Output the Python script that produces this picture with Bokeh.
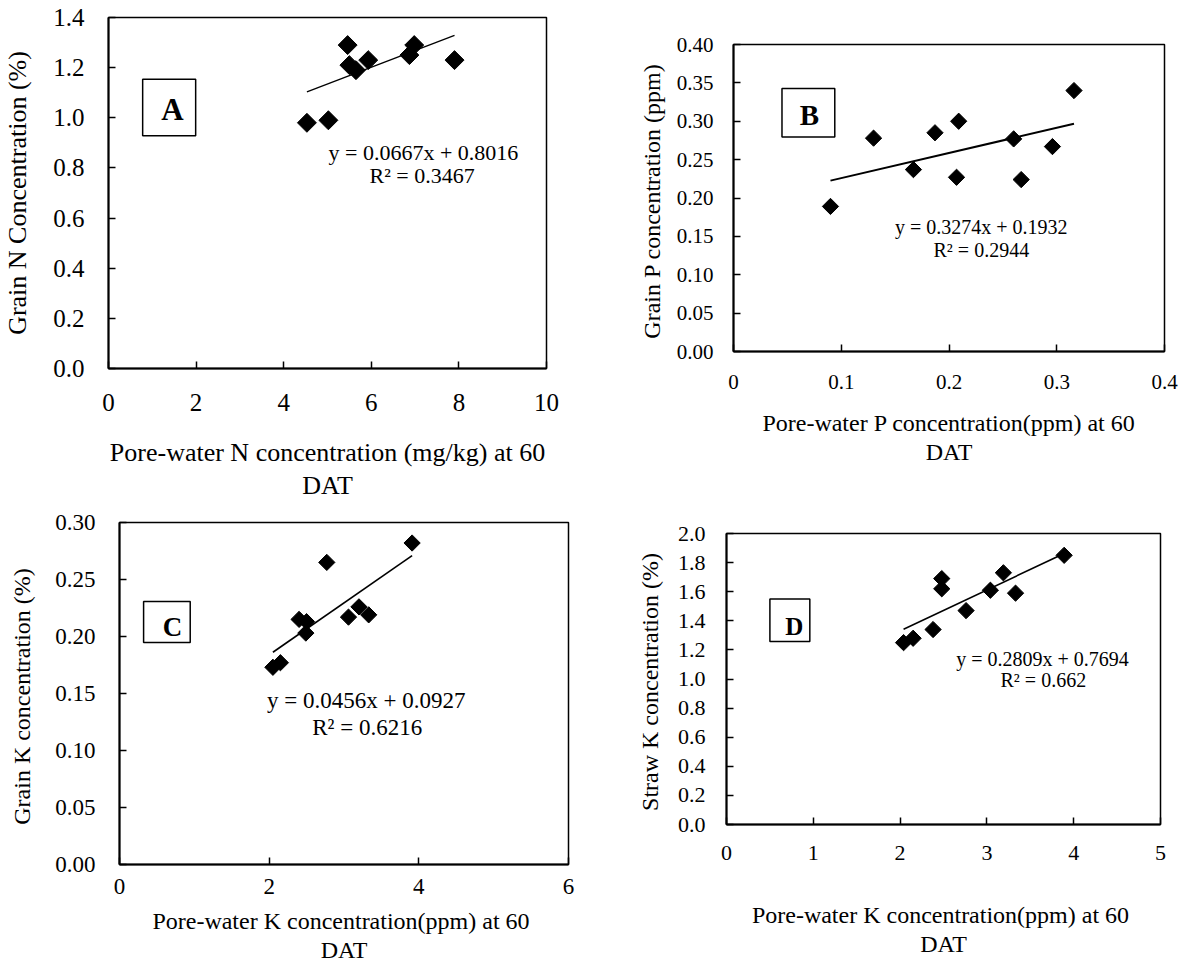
import numpy as np
from bokeh.plotting import figure
from bokeh.models import Range1d, FixedTicker, Label, BoxAnnotation, CustomJSTickFormatter
from bokeh.layouts import column, row
from bokeh.embed import file_html
from bokeh.resources import INLINE

FONT = "Liberation Serif"

# ---------------- data ----------------
# Panel A: grain N vs pore-water N
a_x = [4.53, 5.02, 5.46, 5.50, 5.65, 5.93, 6.87, 6.98, 7.90]
a_y = [0.98, 0.99, 1.29, 1.21, 1.19, 1.23, 1.25, 1.29, 1.23]
a_fit = (0.0667, 0.8016)
a_eq = "y = 0.0667x + 0.8016"
a_r2 = "R² = 0.3467"
a_xticks = [0, 2, 4, 6, 8, 10]
a_xlabels = ["0", "2", "4", "6", "8", "10"]
a_yticks = [0.0, 0.2, 0.4, 0.6, 0.8, 1.0, 1.2, 1.4]
a_ylabels = ["0.0", "0.2", "0.4", "0.6", "0.8", "1.0", "1.2", "1.4"]
a_xtitle = "Pore-water N concentration (mg/kg) at 60\nDAT"
a_ytitle = "Grain N Concentration (%)"

# Panel B: grain P vs pore-water P
b_x = [0.090, 0.130, 0.167, 0.187, 0.209, 0.207, 0.260, 0.267, 0.296, 0.316]
b_y = [0.189, 0.278, 0.237, 0.285, 0.300, 0.227, 0.277, 0.224, 0.267, 0.340]
b_fit = (0.3274, 0.1932)
b_eq = "y = 0.3274x + 0.1932"
b_r2 = "R² = 0.2944"
b_xticks = [0, 0.1, 0.2, 0.3, 0.4]
b_xlabels = ["0", "0.1", "0.2", "0.3", "0.4"]
b_yticks = [0.0, 0.05, 0.10, 0.15, 0.20, 0.25, 0.30, 0.35, 0.40]
b_ylabels = ["0.00", "0.05", "0.10", "0.15", "0.20", "0.25", "0.30", "0.35", "0.40"]
b_xtitle = "Pore-water P concentration(ppm) at 60\nDAT"
b_ytitle = "Grain P concentration  (ppm)"

# Panel C: grain K vs pore-water K
c_x = [2.05, 2.15, 2.40, 2.50, 2.49, 2.77, 3.06, 3.20, 3.33, 3.91]
c_y = [0.173, 0.177, 0.215, 0.213, 0.203, 0.265, 0.217, 0.226, 0.219, 0.282]
c_fit = (0.0456, 0.0927)
c_eq = "y = 0.0456x + 0.0927"
c_r2 = "R² = 0.6216"
c_xticks = [0, 2, 4, 6]
c_xlabels = ["0", "2", "4", "6"]
c_yticks = [0.0, 0.05, 0.10, 0.15, 0.20, 0.25, 0.30]
c_ylabels = ["0.00", "0.05", "0.10", "0.15", "0.20", "0.25", "0.30"]
c_xtitle = "Pore-water K concentration(ppm)  at 60\nDAT"
c_ytitle = "Grain K concentration  (%)"

# Panel D: straw K vs pore-water K
d_x = [2.04, 2.15, 2.38, 2.48, 2.48, 2.76, 3.04, 3.19, 3.33, 3.89]
d_y = [1.25, 1.28, 1.34, 1.69, 1.62, 1.47, 1.61, 1.73, 1.59, 1.85]
d_fit = (0.2809, 0.7694)
d_eq = "y = 0.2809x + 0.7694"
d_r2 = "R² = 0.662"
d_xticks = [0, 1, 2, 3, 4, 5]
d_xlabels = ["0", "1", "2", "3", "4", "5"]
d_yticks = [0.0, 0.2, 0.4, 0.6, 0.8, 1.0, 1.2, 1.4, 1.6, 1.8, 2.0]
d_ylabels = ["0.0", "0.2", "0.4", "0.6", "0.8", "1.0", "1.2", "1.4", "1.6", "1.8", "2.0"]
d_xtitle = "Pore-water K concentration(ppm)  at 60\nDAT"
d_ytitle = "Straw K concentration  (%)"


def panel(cfg):
    p = figure(width=cfg["w"], height=cfg["h"], output_backend="svg", toolbar_location=None,
               x_range=Range1d(*cfg["xr"]), y_range=Range1d(*cfg["yr"]),
               min_border_left=cfg["b"][0], min_border_right=cfg["b"][1],
               min_border_top=cfg["b"][2], min_border_bottom=cfg["b"][3],
               background_fill_color="white", border_fill_color="white")
    p.grid.visible = False
    p.outline_line_color = "black"
    p.outline_line_width = 1.5
    axes = ((p.xaxis[0], cfg["xt"], cfg["xl"], cfg["sx"], cfg["xtitle"], cfg["lsx"]),
            (p.yaxis[0], cfg["yt"], cfg["yl"], cfg["sy"], cfg["ytitle"], cfg["lsy"]))
    for ax, ticks, labels, stand, title, lstand in axes:
        ax.ticker = FixedTicker(ticks=ticks, minor_ticks=[])
        ax.formatter = CustomJSTickFormatter(args=dict(labels=labels), code="return labels[index]")
        ax.major_tick_in = 7
        ax.major_tick_out = 0
        ax.minor_tick_line_color = None
        ax.major_tick_line_width = 1.5
        ax.axis_line_width = 2
        ax.major_label_text_font = FONT
        ax.major_label_text_font_size = cfg["tick_fs"]
        ax.major_label_text_color = "black"
        ax.major_label_standoff = stand
        ax.axis_label = title
        ax.axis_label_text_font = FONT
        ax.axis_label_text_font_size = cfg["title_fs"]
        ax.axis_label_text_font_style = "normal"
        ax.axis_label_text_color = "black"
        ax.axis_label_text_line_height = 1.15
        ax.axis_label_standoff = lstand

    xs, ys = cfg["x"], cfg["y"]
    lx = np.array([min(xs), max(xs)])
    p.line(lx, cfg["fit"][0] * lx + cfg["fit"][1], line_color="black", line_width=cfg["lw"])
    p.scatter(xs, ys, marker="square", size=cfg["ms"], angle=np.pi / 4,
              fill_color="black", line_color="black")

    def lab(x, y, text, fs, bold=False):
        p.add_layout(Label(x=x, y=y, text=text, text_font=FONT, text_font_size=fs,
                           text_align="center", text_baseline="middle",
                           text_color="black", text_font_style="bold" if bold else "normal"))

    bl, br, bb, bt = cfg["box"]
    p.add_layout(BoxAnnotation(left=bl, right=br, bottom=bb, top=bt, fill_alpha=0,
                               fill_color=None, line_color="black", line_alpha=1.0,
                               line_width=1.5))
    lab(cfg["letter_pos"][0], cfg["letter_pos"][1], cfg["letter"], cfg["letter_fs"], bold=True)
    lab(cfg["eq_pos"][0], cfg["eq_pos"][1], cfg["eq"], cfg["eq_fs"])
    lab(cfg["r2_pos"][0], cfg["r2_pos"][1], cfg["r2"], cfg["eq_fs"])
    return p


ROW1_H = 509
ROW2_H = 462

pA = panel(dict(w=580, h=ROW1_H, b=(108, 34, 17, 141), xr=(0, 10), yr=(0, 1.4),
                xt=a_xticks, xl=a_xlabels, yt=a_yticks, yl=a_ylabels, sx=25, sy=24,
                lsx=24, lsy=18,
                tick_fs="25px", title_fs="26px", eq_fs="22px", letter_fs="31px",
                x=a_x, y=a_y, fit=a_fit, lw=1.3, ms=13.4,
                box=(0.78, 1.99, 0.928, 1.154), letter="A", letter_pos=(1.46, 1.033),
                eq=a_eq, r2=a_r2, eq_pos=(7.19, 0.863), r2_pos=(7.16, 0.770),
                xtitle=a_xtitle, ytitle=a_ytitle))

pB = panel(dict(w=600, h=ROW1_H, b=(153, 16, 44, 158), xr=(0, 0.4), yr=(0, 0.4),
                xt=b_xticks, xl=b_xlabels, yt=b_yticks, yl=b_ylabels, sx=23, sy=20,
                lsx=18, lsy=9,
                tick_fs="21px", title_fs="24px", eq_fs="20px", letter_fs="29px",
                x=b_x, y=b_y, fit=b_fit, lw=2, ms=11.5,
                box=(0.045, 0.094, 0.2795, 0.3426), letter="B", letter_pos=(0.0705, 0.3078),
                eq=b_eq, r2=b_r2, eq_pos=(0.230, 0.162), r2_pos=(0.230, 0.1317),
                xtitle=b_xtitle, ytitle=b_ytitle))

pC = panel(dict(w=580, h=ROW2_H, b=(119, 12, 13, 107), xr=(0, 6), yr=(0, 0.3),
                xt=c_xticks, xl=c_xlabels, yt=c_yticks, yl=c_ylabels, sx=14, sy=24,
                lsx=11, lsy=17,
                tick_fs="23px", title_fs="24px", eq_fs="23px", letter_fs="27px",
                x=c_x, y=c_y, fit=c_fit, lw=1.6, ms=11.5,
                box=(0.322, 0.945, 0.1947, 0.2308), letter="C", letter_pos=(0.708, 0.2083),
                eq=c_eq, r2=c_r2, eq_pos=(3.297, 0.1439), r2_pos=(3.31, 0.12),
                xtitle=c_xtitle, ytitle=c_ytitle))

pD = panel(dict(w=600, h=ROW2_H, b=(146, 20, 24, 147), xr=(0, 5), yr=(0, 2.0),
                xt=d_xticks, xl=d_xlabels, yt=d_yticks, yl=d_ylabels, sx=21, sy=21,
                lsx=39, lsy=12,
                tick_fs="22px", title_fs="24px", eq_fs="20px", letter_fs="25px",
                x=d_x, y=d_y, fit=d_fit, lw=1.6, ms=11.5,
                box=(0.50, 0.96, 1.257, 1.55), letter="D", letter_pos=(0.78, 1.364),
                eq=d_eq, r2=d_r2, eq_pos=(3.64, 1.138), r2_pos=(3.65, 0.99),
                xtitle=d_xtitle, ytitle=d_ytitle))

layout = column(row(column(pA), column(pB)), row(column(pC), column(pD)))
open("out.html", "w").write(file_html(layout, INLINE))
